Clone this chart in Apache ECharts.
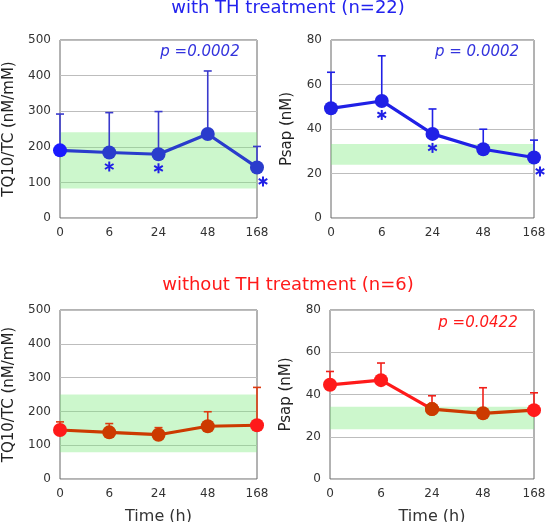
<!DOCTYPE html>
<html lang="en">
<head>
    <meta charset="UTF-8">
    <title>TQ10/TC and Psap</title>
    <script src="https://cdn.jsdelivr.net/npm/echarts@6/dist/echarts.min.js"></script>
    <style>
        html, body { margin: 0; padding: 0; background: #fff; }
        #chart { width: 551px; height: 522px; }
    </style>
</head>
<body>
<div id="chart"></div>
<script>
    // time points (h)
    var hours = ['0', '6', '24', '48', '168'];

    // with TH treatment (n=22)
    var tqWith = [190, 184, 179, 236, 142];
    var tqWithTop = [292, 296, 299, 413, 201];
    var psapWith = [49.3, 52.6, 37.8, 30.9, 27.2];
    var psapWithTop = [65.5, 72.9, 49, 39.9, 35];

    // without TH treatment (n=6)
    var tqWithout = [145, 138, 131, 156, 159];
    var tqWithoutTop = [169, 164, 152, 199, 271];
    var psapWithout = [44.6, 46.8, 33.1, 31.1, 32.6];
    var psapWithoutTop = [50.9, 54.9, 39.4, 43.2, 40.8];

    // normal ranges (green bands)
    var tqBandTop = [83, 241];
    var psapBandTop = [23.9, 33.3];
    var tqBandBottom = [79, 250];
    var psapBandBottom = [23.5, 34.2];

    // significant time points (index in hours)
    var starsWithTq = [1, 2, 4];
    var starsWithPsap = [1, 2, 4];

    var BLUE = '#2a3ccc';
    var BLUE2 = '#2020e6';
    var RED = '#ff1a1a';
    var ORANGE = '#cc3a00';
    var BAND = 'rgba(120,235,120,0.38)';
    var FONT = 'DejaVu Sans';

    var myChart = echarts.init(document.getElementById('chart'));

    function makeGrid(left, top, width, height) {
        return {left: left, top: top, width: width, height: height, outerBoundsMode: 'none',
            containLabel: false,
            show: true, borderColor: '#666', borderWidth: 1, backgroundColor: 'transparent'};
    }

    function makeX(i, withName) {
        return {
            type: 'category', gridIndex: i, data: hours, boundaryGap: false,
            axisLine: {show: false}, axisTick: {show: false},
            axisLabel: {color: '#333', fontSize: 12, fontFamily: FONT, margin: 9},
            name: withName ? 'Time (h)' : '', nameLocation: 'middle', nameGap: 30,
            nameTextStyle: {color: '#333', fontSize: 16, fontFamily: FONT}
        };
    }

    function makeY(i, max, interval, name, gap) {
        return {
            type: 'value', gridIndex: i, min: 0, max: max, interval: interval,
            axisLine: {show: false}, axisTick: {show: false},
            axisLabel: {color: '#333', fontSize: 12, fontFamily: FONT, margin: 9},
            splitLine: {lineStyle: {color: '#bdbdbd', width: 1}},
            name: name, nameLocation: 'middle', nameGap: gap, nameRotate: 90,
            nameTextStyle: {color: '#222', fontSize: 15, fontFamily: FONT}
        };
    }

    function errorSeries(i, vals, tops, color) {
        var d = [];
        for (var k = 0; k < vals.length; k++) {
            d.push([k, vals[k], tops[k]]);
        }
        return {
            type: 'custom', xAxisIndex: i, yAxisIndex: i, data: d, z: 1, silent: true,
            renderItem: function (params, api) {
                var p0 = api.coord([api.value(0), api.value(1)]);
                var p1 = api.coord([api.value(0), api.value(2)]);
                var st = {stroke: color, lineWidth: 1.6};
                return {type: 'group', children: [
                    {type: 'line', shape: {x1: p0[0], y1: p0[1], x2: p1[0], y2: p1[1]}, style: st},
                    {type: 'line', shape: {x1: p1[0] - 4, y1: p1[1], x2: p1[0] + 4, y2: p1[1]}, style: st}
                ]};
            }
        };
    }

    function starSeries(i, vals, idx, color) {
        var d = [];
        for (var k = 0; k < idx.length; k++) {
            d.push([idx[k], vals[idx[k]]]);
        }
        return {
            type: 'custom', xAxisIndex: i, yAxisIndex: i, data: d, z: 5, silent: true,
            renderItem: function (params, api) {
                var p = api.coord([api.value(0), api.value(1)]);
                var cx = p[0] + (api.value(0) === hours.length - 1 ? 6 : 0);
                var cy = p[1] + 14;
                var r = 5, ch = [];
                for (var a = 0; a < 3; a++) {
                    var ang = Math.PI / 2 + a * Math.PI / 3;
                    ch.push({type: 'line', shape: {
                        x1: cx - r * Math.cos(ang), y1: cy - r * Math.sin(ang),
                        x2: cx + r * Math.cos(ang), y2: cy + r * Math.sin(ang)},
                        style: {stroke: color, lineWidth: 2}});
                }
                return {type: 'group', children: ch};
            }
        };
    }

    function lineSeries(i, vals, lineColor, pointColors, band) {
        var d = [];
        for (var k = 0; k < vals.length; k++) {
            if (vals[k] === null) { d.push(null); continue; }
            d.push({value: vals[k], itemStyle: {color: pointColors[k]}});
        }
        var s = {
            type: 'line', xAxisIndex: i, yAxisIndex: i, data: d, z: 3,
            symbol: 'circle', symbolSize: 14, connectNulls: false,
            lineStyle: {color: lineColor, width: 3.2},
            itemStyle: {color: lineColor}, silent: true
        };
        if (band) {
            s.markArea = {silent: true, itemStyle: {color: BAND},
                data: [[{yAxis: band[0]}, {yAxis: band[1]}]]};
        }
        return s;
    }

    // bottom-right: red line up to 24 h, dark orange after
    var psapWithoutA = psapWithout.map(function (v, k) { return k <= 2 ? v : null; });
    var psapWithoutB = psapWithout.map(function (v, k) { return k >= 2 ? v : null; });

    var option = {
        animation: false,
        grid: [
            makeGrid(60, 40, 197, 178),
            makeGrid(331, 40, 203, 178),
            makeGrid(60, 310, 197, 169),
            makeGrid(330, 310, 204, 169)
        ],
        xAxis: [makeX(0, false), makeX(1, false), makeX(2, true), makeX(3, true)],
        yAxis: [
            makeY(0, 500, 100, 'TQ10/TC (nM/mM)', 43),
            makeY(1, 80, 20, 'Psap (nM)', 36),
            makeY(2, 500, 100, 'TQ10/TC (nM/mM)', 43),
            makeY(3, 80, 20, 'Psap (nM)', 36)
        ],
        series: [
            errorSeries(0, tqWith, tqWithTop, '#3a3acc'),
            lineSeries(0, tqWith, BLUE, ['#1a1aff', BLUE, BLUE, BLUE, BLUE], tqBandTop),
            starSeries(0, tqWith, starsWithTq, BLUE2),

            errorSeries(1, psapWith, psapWithTop, BLUE2),
            lineSeries(1, psapWith, BLUE2, [BLUE2, BLUE2, BLUE2, BLUE2, BLUE2], psapBandTop),
            starSeries(1, psapWith, starsWithPsap, BLUE2),

            errorSeries(2, tqWithout, tqWithoutTop, '#dd3a10'),
            lineSeries(2, tqWithout, ORANGE, [RED, ORANGE, ORANGE, ORANGE, RED], tqBandBottom),

            errorSeries(3, psapWithout, psapWithoutTop, '#f0201a'),
            lineSeries(3, psapWithoutA, RED, [RED, RED, ORANGE, ORANGE, RED], psapBandBottom),
            lineSeries(3, psapWithoutB, ORANGE, [RED, RED, ORANGE, ORANGE, RED], null)
        ],
        graphic: [
            {type: 'text', x: 288, y: 8, style: {text: 'with TH treatment (n=22)', fill: '#2222ee',
                font: '18px "DejaVu Sans"', textAlign: 'center', textVerticalAlign: 'middle'}},
            {type: 'text', x: 288, y: 285, style: {text: 'without TH treatment (n=6)', fill: RED,
                font: '18px "DejaVu Sans"', textAlign: 'center', textVerticalAlign: 'middle'}},
            {type: 'text', x: 200, y: 52, style: {text: 'p =0.0002', fill: '#3333dd',
                font: 'italic 15px "DejaVu Sans"', textAlign: 'center', textVerticalAlign: 'middle'}},
            {type: 'text', x: 477, y: 52, style: {text: 'p = 0.0002', fill: '#3333dd',
                font: 'italic 15px "DejaVu Sans"', textAlign: 'center', textVerticalAlign: 'middle'}},
            {type: 'text', x: 478, y: 323, style: {text: 'p =0.0422', fill: RED,
                font: 'italic 15px "DejaVu Sans"', textAlign: 'center', textVerticalAlign: 'middle'}}
        ]
    };

    myChart.setOption(option);
</script>
</body>
</html>
